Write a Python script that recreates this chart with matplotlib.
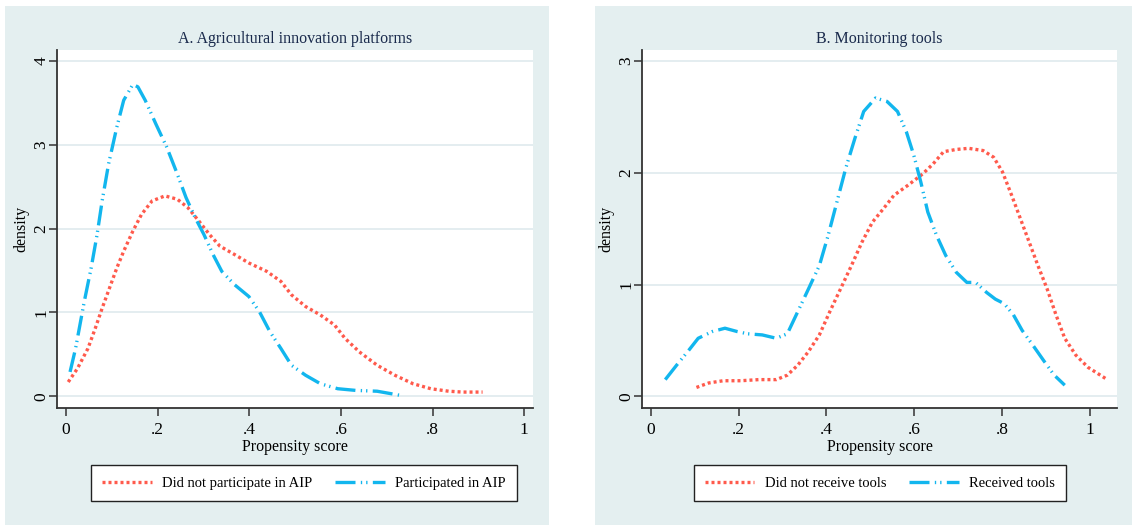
import matplotlib
matplotlib.use('Agg')
import matplotlib.pyplot as plt
from matplotlib.patches import Rectangle

plt.rcParams['font.family'] = ['Liberation Serif', 'DejaVu Serif']

# Panel A: agricultural innovation platforms
a_part_x = [0.009, 0.021, 0.040, 0.055, 0.068, 0.079, 0.093, 0.111, 0.126, 0.146, 0.157, 0.173,
            0.196, 0.220, 0.243, 0.262, 0.282, 0.301, 0.321, 0.340, 0.368, 0.399, 0.422, 0.445,
            0.469, 0.492, 0.523, 0.555, 0.593, 0.632, 0.679, 0.710, 0.730]
a_part_y = [0.29, 0.57, 1.13, 1.53, 1.93, 2.33, 2.77, 3.21, 3.53, 3.72, 3.69, 3.53,
            3.25, 2.97, 2.65, 2.37, 2.13, 1.93, 1.69, 1.49, 1.33, 1.19, 1.01, 0.77,
            0.57, 0.37, 0.25, 0.15, 0.09, 0.07, 0.06, 0.03, 0.01]
a_non_x = [0.005, 0.025, 0.048, 0.064, 0.079, 0.095, 0.111, 0.126, 0.146, 0.165, 0.188, 0.216,
           0.243, 0.266, 0.290, 0.313, 0.336, 0.368, 0.399, 0.438, 0.469, 0.492, 0.523, 0.555,
           0.586, 0.609, 0.640, 0.679, 0.718, 0.757, 0.796, 0.835, 0.866, 0.909]
a_non_y = [0.17, 0.33, 0.57, 0.81, 1.05, 1.29, 1.53, 1.73, 1.97, 2.17, 2.33, 2.39,
           2.35, 2.25, 2.09, 1.93, 1.79, 1.69, 1.59, 1.49, 1.37, 1.21, 1.07, 0.97,
           0.85, 0.69, 0.53, 0.37, 0.25, 0.15, 0.09, 0.06, 0.05, 0.05]

# Panel B: monitoring tools
b_rec_x = [0.033, 0.059, 0.084, 0.108, 0.140, 0.169, 0.197, 0.221, 0.254, 0.286, 0.311, 0.335,
           0.359, 0.384, 0.404, 0.424, 0.444, 0.465, 0.485, 0.512, 0.538, 0.562, 0.582, 0.599,
           0.615, 0.631, 0.651, 0.672, 0.696, 0.720, 0.740, 0.765, 0.785, 0.805, 0.826, 0.846,
           0.870, 0.895, 0.919, 0.943]
b_rec_y = [0.15, 0.28, 0.40, 0.52, 0.58, 0.61, 0.58, 0.56, 0.55, 0.52, 0.56, 0.76,
           0.96, 1.17, 1.44, 1.74, 2.04, 2.31, 2.55, 2.67, 2.64, 2.55, 2.37, 2.16,
           1.92, 1.65, 1.44, 1.26, 1.11, 1.02, 1.02, 0.93, 0.87, 0.83, 0.73, 0.59,
           0.46, 0.32, 0.19, 0.10]
b_non_x = [0.104, 0.132, 0.165, 0.205, 0.246, 0.286, 0.311, 0.335, 0.359, 0.384, 0.408, 0.432,
           0.457, 0.481, 0.505, 0.530, 0.554, 0.586, 0.619, 0.643, 0.667, 0.696, 0.724, 0.757,
           0.781, 0.801, 0.822, 0.842, 0.862, 0.882, 0.903, 0.923, 0.943, 0.968, 0.996, 1.036]
b_non_y = [0.08, 0.12, 0.14, 0.14, 0.15, 0.15, 0.19, 0.28, 0.40, 0.55, 0.76, 0.96,
           1.17, 1.38, 1.56, 1.68, 1.80, 1.89, 1.99, 2.08, 2.19, 2.21, 2.22, 2.20,
           2.14, 2.01, 1.80, 1.59, 1.38, 1.17, 0.96, 0.73, 0.52, 0.37, 0.26, 0.16]

x_ticks = [0, 0.2, 0.4, 0.6, 0.8, 1]
x_labels = ['0', '.2', '.4', '.6', '.8', '1']

red = '#ff5a4c'
blue = '#12b6ee'
bg = '#e4eff0'
navy = '#1a2a4c'

fig = plt.figure(figsize=(11.32, 5.25), dpi=100)
W, H = 1132, 525

# panel backgrounds (behind the axes)
fig.patches.append(Rectangle((5 / W, 0), (549 - 5) / W, 1 - 6 / H, transform=fig.transFigure,
                             facecolor=bg, edgecolor='none', zorder=-5))
fig.patches.append(Rectangle((595 / W, 0), (1132 - 595) / W, 1 - 6 / H, transform=fig.transFigure,
                             facecolor=bg, edgecolor='none', zorder=-5))


def panel(rect, title, non_x, non_y, tr_x, tr_y, yticks, ylim, xlim, labels, leg_x):
    ax = fig.add_axes(rect)
    ax.set_facecolor('white')
    for y in yticks:
        ax.axhline(y, color='#e2ecef', lw=1.3, zorder=1)
    l1, = ax.plot(non_x, non_y, color=red, lw=2.4, linestyle=(0, (0.9, 0.9)), zorder=3)
    l2, = ax.plot(tr_x, tr_y, color=blue, lw=2.4, linestyle=(0, (6, 1.6, 0.4, 1.2, 0.4, 1.6)),
                  zorder=3)
    ax.set_xlim(xlim)
    ax.set_ylim(ylim)
    ax.set_xticks(x_ticks)
    ax.set_xticklabels(x_labels, fontsize=12.5)
    ax.set_yticks(yticks)
    ax.set_yticklabels([str(v) for v in yticks], fontsize=12.5, rotation=90, va='center')
    ax.spines['top'].set_visible(False)
    ax.spines['right'].set_visible(False)
    ax.spines['left'].set_color('#333333')
    ax.spines['bottom'].set_color('#333333')
    ax.spines['left'].set_linewidth(1.3)
    ax.spines['bottom'].set_linewidth(1.3)
    ax.tick_params(direction='out', length=6, width=1.1, color='#333333')
    ax.tick_params(axis='x', pad=4)
    ax.tick_params(axis='y', pad=-0.5)
    ax.set_xlabel('Propensity score', fontsize=11.5, labelpad=1)
    ax.set_ylabel('density', fontsize=11.5, labelpad=3)
    ax.set_title(title, fontsize=11.5, color=navy, pad=5)
    fig.legend([l1, l2], labels, loc='center', bbox_to_anchor=(leg_x, 0.08), ncol=2,
               fontsize=10.5, frameon=True, fancybox=False, edgecolor='#222222',
               facecolor='white', framealpha=1, handlelength=3.4, columnspacing=1.6,
               handletextpad=0.7, borderpad=0.75, borderaxespad=0)
    return ax


axA = panel([57 / W, 1 - 408 / H, 476 / W, 358 / H], 'A. Agricultural innovation platforms',
            a_non_x, a_non_y, a_part_x, a_part_y, [0, 1, 2, 3, 4], (-0.14, 4.13), (-0.0195, 1.019),
            ['Did not participate in AIP', 'Participated in AIP'], 304 / W)
axB = panel([642 / W, 1 - 408 / H, 475 / W, 358 / H], 'B. Monitoring tools',
            b_non_x, b_non_y, b_rec_x, b_rec_y, [0, 1, 2, 3], (-0.104, 3.10), (-0.02, 1.062),
            ['Did not receive tools', 'Received tools'], 880 / W)

fig.savefig('out.png', dpi=100)
